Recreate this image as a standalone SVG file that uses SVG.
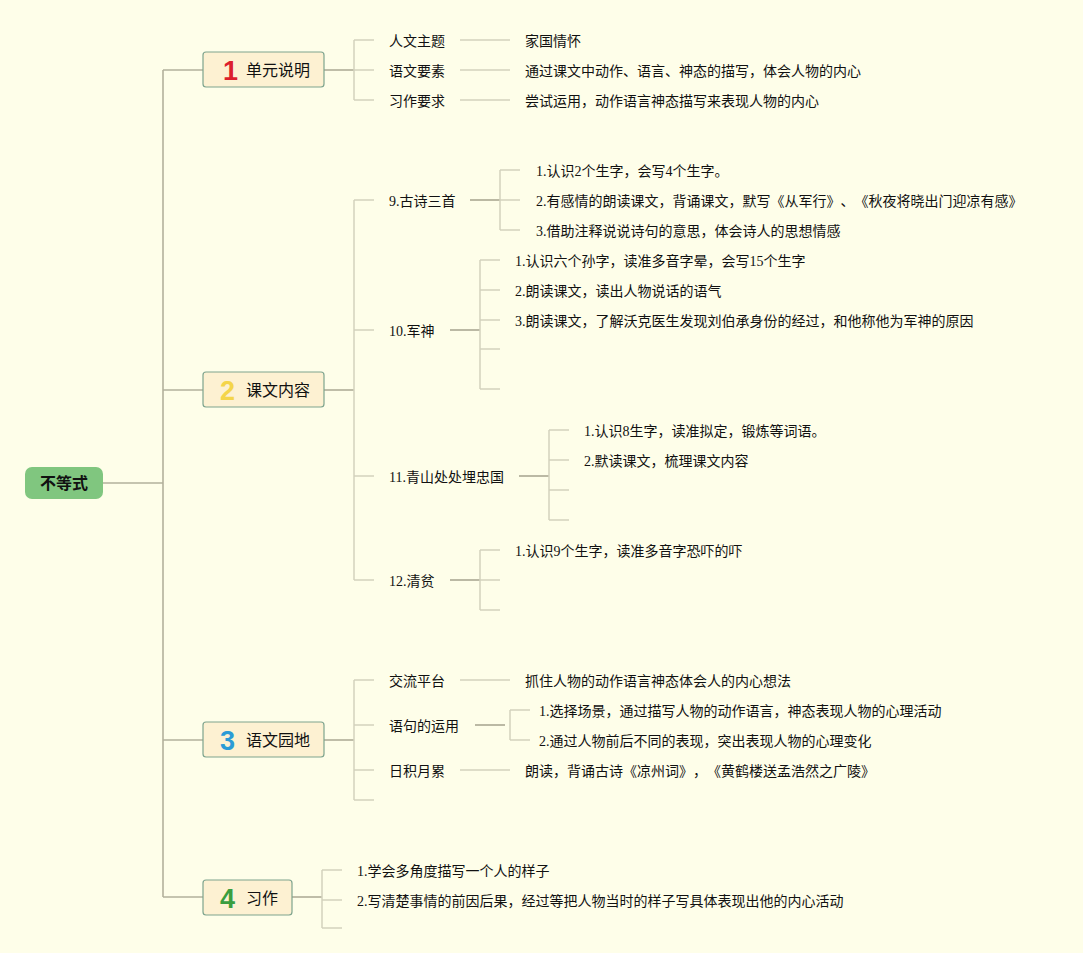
<svg xmlns="http://www.w3.org/2000/svg" width="1083" height="953" viewBox="0 0 1083 953">
<style>
.bg{fill:#fefee9}
.c1{fill:none;stroke:#b3b19c;stroke-width:1.6}
.c2{fill:none;stroke:#d3d2bd;stroke-width:1.5}
.c3{fill:none;stroke:#aaa892;stroke-width:1.6}
.box{fill:#fdf1d2;stroke:#7ea48e;stroke-width:1.2}
.root{fill:#80c67f}
text{text-spacing-trim:space-all;font-feature-settings:"chws" 0,"halt" 0}
.t{font-family:"Liberation Serif","Noto Sans CJK SC",serif;font-size:14px;fill:#111}
.m{font-family:"Noto Sans CJK SC",sans-serif;font-size:16px;fill:#111}
.n{font-family:"Liberation Sans","Noto Sans",sans-serif;font-size:27px;font-weight:bold}
.r{font-family:"Noto Sans CJK SC",sans-serif;font-size:16px;font-weight:bold;fill:#111}
</style>
<rect class="bg" x="0" y="0" width="1083" height="953"/>
<g id="connectors">
<path class="c1" d="M102 483H163M163 70V897M163 70H203M163 390H203M163 740H203M163 897H203"/>
<path class="c3" d="M324 70H354M324 390H354M324 740H354M292 897H322"/>
<path class="c2" d="M354 40V100M354 40H374M354 70H374M354 100H374"/>
<path class="c2" d="M460 40H510M460 70H510M460 100H510"/>
<path class="c2" d="M354 200V580M354 200H374M354 330H374M354 476H374M354 580H374"/>
<path class="c3" d="M470 200H500"/>
<path class="c2" d="M500 170V230M500 170H520M500 200H520M500 230H520"/>
<path class="c3" d="M450 330H480"/>
<path class="c2" d="M480 260V389M480 260H500M480 290H500M480 320H500M480 349H500M480 389H500"/>
<path class="c3" d="M519 476H549"/>
<path class="c2" d="M549 430V520M549 430H569M549 460H569M549 490H569M549 520H569"/>
<path class="c3" d="M450 580H480"/>
<path class="c2" d="M480 550V610M480 550H500M480 580H500M480 610H500"/>
<path class="c2" d="M354 680V800M354 680H374M354 725H374M354 770H374M354 800H374"/>
<path class="c2" d="M460 680H510M460 770H510"/>
<path class="c3" d="M475 725H505"/>
<path class="c2" d="M510 710V740M510 710H530M510 740H530"/>
<path class="c2" d="M322 870V928M322 870H342M322 900H342M322 928H342"/>
</g>
<g id="root">
<rect class="root" x="25" y="467" width="78" height="32" rx="7"/>
<text class="r" x="64" y="489" text-anchor="middle">不等式</text>
</g>
<g id="node1">
<rect class="box" x="203" y="52" width="121" height="35" rx="3"/>
<text class="n" x="223" y="80" fill="#dc1f2d">1</text>
<text class="m" x="246" y="76">单元说明</text>
</g>
<g id="node1-children">
<text class="t" x="389" y="46">人文主题</text>
<text class="t" x="389" y="76">语文要素</text>
<text class="t" x="389" y="106">习作要求</text>
<text class="t" x="525" y="46">家国情怀</text>
<text class="t" x="525" y="76">通过课文中动作、语言、神态的描写，体会人物的内心</text>
<text class="t" x="525" y="106">尝试运用，动作语言神态描写来表现人物的内心</text>
</g>
<g id="node2">
<rect class="box" x="203" y="372" width="121" height="35" rx="3"/>
<text class="n" x="220" y="400" fill="#f4d54a">2</text>
<text class="m" x="246" y="396">课文内容</text>
</g>
<g id="node2-children">
<text class="t" x="389" y="206">9.古诗三首</text>
<text class="t" x="536" y="176">1.认识2个生字，会写4个生字。</text>
<text class="t" x="536" y="206">2.有感情的朗读课文，背诵课文，默写《从军行》、《秋夜将晓出门迎凉有感》</text>
<text class="t" x="536" y="236">3.借助注释说说诗句的意思，体会诗人的思想情感</text>
<text class="t" x="389" y="336">10.军神</text>
<text class="t" x="515" y="266">1.认识六个孙字，读准多音字晕，会写15个生字</text>
<text class="t" x="515" y="296">2.朗读课文，读出人物说话的语气</text>
<text class="t" x="515" y="326">3.朗读课文，了解沃克医生发现刘伯承身份的经过，和他称他为军神的原因</text>
<text class="t" x="389" y="482">11.青山处处埋忠国</text>
<text class="t" x="584" y="436">1.认识8生字，读准拟定，锻炼等词语。</text>
<text class="t" x="584" y="466">2.默读课文，梳理课文内容</text>
<text class="t" x="389" y="586">12.清贫</text>
<text class="t" x="515" y="556">1.认识9个生字，读准多音字恐吓的吓</text>
</g>
<g id="node3">
<rect class="box" x="203" y="722" width="121" height="35" rx="3"/>
<text class="n" x="220" y="750" fill="#2b9bd6">3</text>
<text class="m" x="246" y="746">语文园地</text>
</g>
<g id="node3-children">
<text class="t" x="389" y="686">交流平台</text>
<text class="t" x="525" y="686">抓住人物的动作语言神态体会人的内心想法</text>
<text class="t" x="389" y="731">语句的运用</text>
<text class="t" x="539" y="716">1.选择场景，通过描写人物的动作语言，神态表现人物的心理活动</text>
<text class="t" x="539" y="746">2.通过人物前后不同的表现，突出表现人物的心理变化</text>
<text class="t" x="389" y="776">日积月累</text>
<text class="t" x="525" y="776">朗读，背诵古诗《凉州词》，《黄鹤楼送孟浩然之广陵》</text>
</g>
<g id="node4">
<rect class="box" x="203" y="880" width="89" height="35" rx="3"/>
<text class="n" x="220" y="908" fill="#3a9e3f">4</text>
<text class="m" x="246" y="904">习作</text>
</g>
<g id="node4-children">
<text class="t" x="357" y="876">1.学会多角度描写一个人的样子</text>
<text class="t" x="357" y="906">2.写清楚事情的前因后果，经过等把人物当时的样子写具体表现出他的内心活动</text>
</g>
</svg>
